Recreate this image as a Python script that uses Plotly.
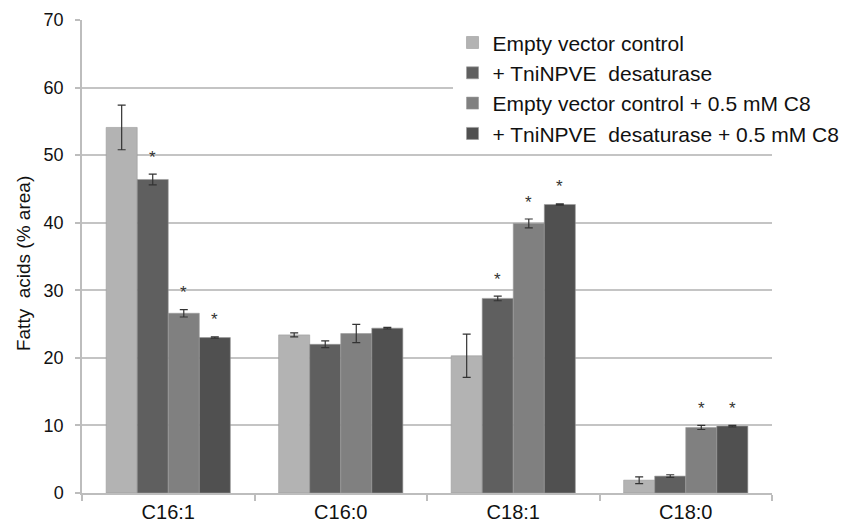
import plotly.graph_objects as go

categories = ["C16:1", "C16:0", "C18:1", "C18:0"]
series_names = [
    "Empty vector control",
    "+ TniNPVE  desaturase",
    "Empty vector control + 0.5 mM C8",
    "+ TniNPVE  desaturase + 0.5 mM C8",
]
s1 = [54.1, 23.4, 20.3, 1.9]
e1 = [3.3, 0.3, 3.2, 0.5]
s2 = [46.4, 22.0, 28.8, 2.5]
e2 = [0.8, 0.5, 0.35, 0.2]
s3 = [26.6, 23.6, 39.9, 9.7]
e3 = [0.55, 1.35, 0.65, 0.3]
s4 = [23.0, 24.4, 42.7, 9.9]
e4 = [0.1, 0.1, 0.1, 0.1]
sig2 = [True, False, True, False]
sig3 = [True, False, True, True]
sig4 = [True, False, True, True]
y_ticks = [0, 10, 20, 30, 40, 50, 60, 70]

colors = ["#b3b3b3", "#5f5f5f", "#808080", "#505050"]
values = [s1, s2, s3, s4]
errors = [e1, e2, e3, e4]
sigs = [None, sig2, sig3, sig4]

W, H = 847, 525
L, R, T, B = 82, 75, 20, 32
FONT = "Liberation Sans, Arial, sans-serif"

fig = go.Figure()
for i in range(4):
    fig.add_trace(go.Bar(
        x=categories, y=values[i], name=series_names[i],
        legendgroup=str(i),
        marker=dict(color=colors[i], line=dict(color="#9a9a9a", width=0.6)),
        error_y=dict(type="data", array=errors[i], visible=True,
                     color="#333333", thickness=1.2, width=4),
    ))

bargap = 0.28
bw = (1 - bargap) / 4
annotations = []
for i in range(1, 4):
    off = -(1 - bargap) / 2 + bw * (i + 0.5)
    for j, flag in enumerate(sigs[i]):
        if flag:
            annotations.append(dict(
                x=j + off, y=values[i][j] + errors[i][j], xref="x", yref="y",
                text="*", showarrow=False, yanchor="middle", yshift=17,
                font=dict(size=17, color="#333333", family=FONT)))

annotations.append(dict(
    x=(23 - L) / (W - L - R), y=0.484, xref="paper", yref="paper",
    xanchor="center", yanchor="middle",
    text="Fatty  acids (% area)", textangle=-90, showarrow=False,
    font=dict(size=19, color="#111111", family=FONT)))

fig.update_layout(
    width=W, height=H,
    margin=dict(l=L, r=R, t=T, b=B, autoexpand=False),
    paper_bgcolor="white", plot_bgcolor="white",
    barmode="group", bargap=bargap, bargroupgap=0,
    font=dict(family=FONT, color="#111111"),
    legend=dict(x=0.537, y=0.995, xanchor="left", yanchor="top",
                bgcolor="white", font=dict(size=21, color="#111111", family=FONT),
                itemwidth=30, tracegroupgap=2, traceorder="normal"),
    annotations=annotations,
    xaxis=dict(showline=True, linecolor="#bdbdbd", linewidth=1.5,
               ticks="outside", tickson="boundaries", ticklen=6,
               tickcolor="#bdbdbd", tickwidth=1.5,
               tickfont=dict(size=20, color="#111111", family=FONT)),
    yaxis=dict(range=[0, 70], tickvals=y_ticks, showgrid=True,
               gridcolor="#c4c4c4", gridwidth=1.5, zeroline=False,
               showline=True, linecolor="#bdbdbd", linewidth=1.5,
               ticks="outside", ticklen=5, tickcolor="#bdbdbd", tickwidth=1.5,
               ticklabelstandoff=8,
               tickfont=dict(size=18, color="#111111", family=FONT)),
)

fig.write_html("out.html")
